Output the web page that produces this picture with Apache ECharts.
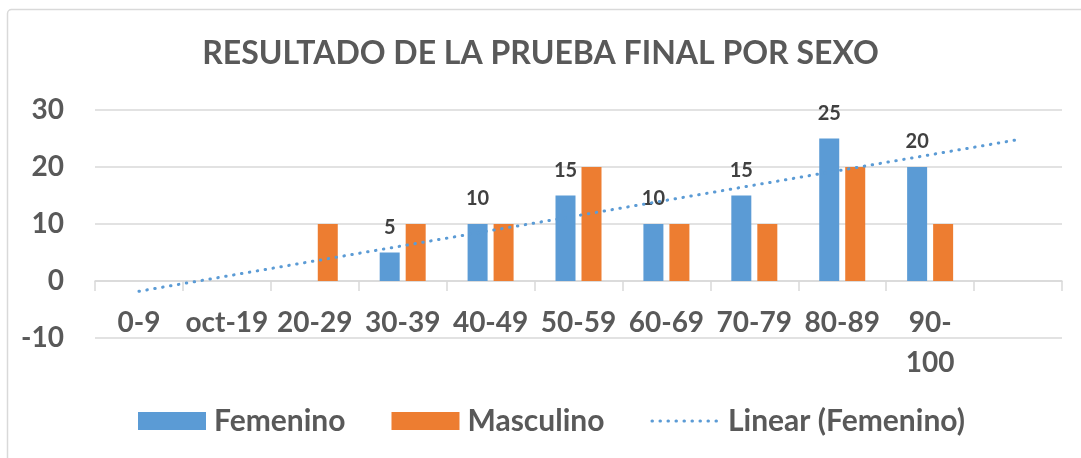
<!DOCTYPE html>
<html>
<head>
<meta charset="utf-8">
<script src="https://cdn.jsdelivr.net/npm/echarts@6/dist/echarts.min.js"></script>
<style>
  html, body { margin: 0; padding: 0; background: #fff; }
  #chart { width: 1081px; height: 458px; }
</style>
</head>
<body>
<div id="chart"></div>
<script>
// rangos de nota (la ultima categoria queda vacia para la tendencia)
const categories = ['0-9', 'oct-19', '20-29', '30-39', '40-49', '50-59', '60-69', '70-79', '80-89', '90-100', ''];
const femenino = [0, 0, 0, 5, 10, 15, 10, 15, 25, 20, null];
const masculino = [0, 0, 10, 10, 10, 20, 10, 10, 20, 10, null];
// tendencia lineal: extremo inicial y final
const tendencia = [-1.8, null, null, null, null, null, null, null, null, null, 24.8];
const yTicks = { min: -10, max: 30, interval: 10 };

const gris = '#595959';
const fuente = 'Lato';
const punteado = { color: '#5b9bd5', width: 3, type: [0.5, 7.5], cap: 'round' };

var chartDom = document.getElementById('chart');
var myChart = echarts.init(chartDom);

var option = {
    animation: false,
    textStyle: { fontFamily: fuente },
    graphic: [
        {
            type: 'rect',
            left: 5, top: 7,
            shape: { width: 1100, height: 480, r: 4 },
            style: { fill: 'none', stroke: '#d9d9d9', lineWidth: 1.5 }
        }
    ],
    title: {
        text: 'RESULTADO DE LA PRUEBA FINAL POR SEXO',
        left: 'center',
        top: 33,
        textStyle: { fontFamily: fuente, fontWeight: 'bold', fontSize: 32, color: gris }
    },
    legend: {
        data: [
            { name: 'Femenino', icon: 'rect' },
            { name: 'Masculino', icon: 'rect' },
            // solo la linea punteada, sin el circulo
            { name: 'Linear (Femenino)', itemStyle: { opacity: 0 }, lineStyle: punteado }
        ],
        left: 133,
        top: 401,
        itemWidth: 68,
        itemHeight: 18,
        itemGap: 46,
        textStyle: { fontFamily: fuente, fontWeight: 'bold', fontSize: 30, color: gris, padding: [0, 0, 0, 3] }
    },
    grid: { left: 95, right: 19, top: 110, bottom: 120, containLabel: false },
    xAxis: {
        type: 'category',
        data: categories,
        axisLine: { onZero: true, lineStyle: { color: '#d9d9d9', width: 1.5 } },
        axisTick: { show: true, length: 10, lineStyle: { color: '#d9d9d9', width: 1.5 } },
        axisLabel: {
            interval: 0,
            margin: -35,
            fontFamily: fuente,
            fontWeight: 'bold',
            fontSize: 28,
            lineHeight: 40,
            color: gris,
            formatter: (v) => v === '90-100' ? '90-\n100' : v
        },
        splitLine: { show: false }
    },
    yAxis: {
        type: 'value',
        min: yTicks.min,
        max: yTicks.max,
        interval: yTicks.interval,
        axisLine: { show: false },
        axisTick: { show: false },
        axisLabel: { margin: 31, fontFamily: fuente, fontWeight: 'bold', fontSize: 28, color: gris },
        splitLine: { lineStyle: { color: '#d9d9d9', width: 1.5 } }
    },
    series: [
        {
            name: 'Femenino',
            type: 'bar',
            data: femenino,
            barWidth: 20,
            barGap: '30%',
            itemStyle: { color: '#5b9bd5' },
            label: {
                show: true,
                position: 'top',
                distance: 15,
                fontFamily: fuente,
                fontWeight: 'bold',
                fontSize: 20,
                color: '#404040',
                formatter: (p) => p.value ? p.value : ''
            }
        },
        {
            name: 'Masculino',
            type: 'bar',
            data: masculino,
            barWidth: 20,
            itemStyle: { color: '#ed7d31' }
        },
        {
            name: 'Linear (Femenino)',
            type: 'line',
            data: tendencia,
            connectNulls: true,
            symbol: 'none',
            z: 5,
            lineStyle: punteado,
            itemStyle: { color: '#5b9bd5' }
        }
    ]
};

option && myChart.setOption(option);
</script>
</body>
</html>
